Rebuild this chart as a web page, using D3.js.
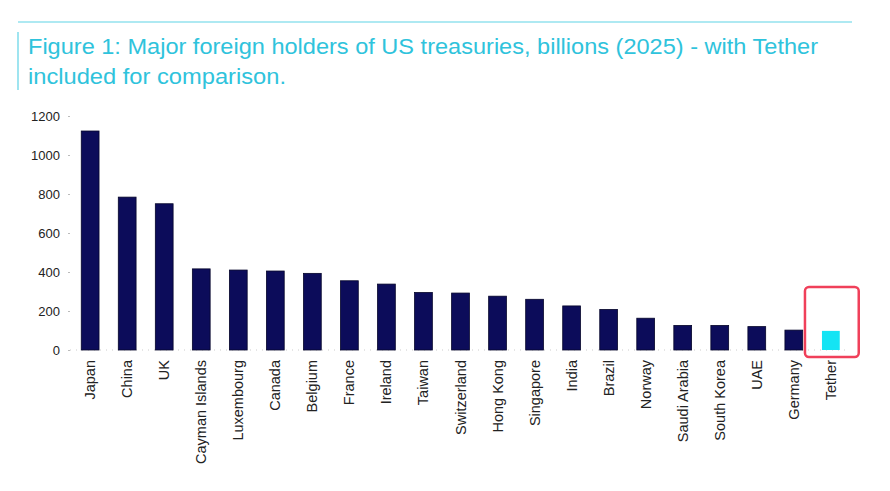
<!DOCTYPE html>
<html><head><meta charset="utf-8">
<script src="https://cdn.jsdelivr.net/npm/d3@7"></script>
<style>body{margin:0;background:#fff}svg{font-family:"Liberation Sans",Arial,sans-serif}</style>
</head><body><svg id="c" width="890" height="491"></svg>
<script>
const countries = ["Japan","China","UK","Cayman Islands","Luxembourg","Canada","Belgium","France","Ireland","Taiwan","Switzerland","Hong Kong","Singapore","India","Brazil","Norway","Saudi Arabia","South Korea","UAE","Germany","Tether"]
const holdings = [1123,784,750,416,410,405,393,355,338,295,292,276,260,226,208,163,126,126,120,102,98]
const yTicks = [0,200,400,600,800,1000,1200]

const svg = d3.select("#c")

const x = d3.scaleBand().domain(countries).range([72, 849]).paddingInner(0.52).paddingOuter(0.25)
const y = d3.scaleLinear().domain([0, 1200]).range([350, 116])

// header
svg.append("line").attr("x1", 18).attr("x2", 852).attr("y1", 22).attr("y2", 22)
    .attr("stroke", "#5fd3e6").attr("stroke-width", 1.2)
svg.append("line").attr("x1", 18).attr("x2", 18).attr("y1", 32).attr("y2", 90)
    .attr("stroke", "#5fd3e6").attr("stroke-width", 1.2)
const title = svg.append("text").attr("fill", "#2fc3dc").attr("font-size", 21.5)
    .attr("textLength", null)
title.append("tspan").attr("x", 28).attr("y", 54)
    .attr("textLength", 790).attr("lengthAdjust", "spacingAndGlyphs")
    .text("Figure 1: Major foreign holders of US treasuries, billions (2025) - with Tether")
title.append("tspan").attr("x", 28).attr("y", 84)
    .attr("textLength", 258).attr("lengthAdjust", "spacingAndGlyphs")
    .text("included for comparison.")

// y axis
const yAxis = svg.append("g").attr("transform", "translate(70,0)")
    .call(d3.axisLeft(y).tickValues(yTicks).tickFormat(d3.format("d")).tickSize(2).tickPadding(8))
yAxis.select(".domain").remove()
yAxis.selectAll(".tick line").attr("stroke", "#bbb")
yAxis.selectAll("text").attr("font-size", 13).attr("fill", "#222")

// baseline
svg.append("line").attr("x1", 70).attr("x2", 849).attr("y1", y(0)).attr("y2", y(0))
    .attr("stroke", "#ccc").attr("stroke-dasharray", "1,5")

svg.selectAll(".bar").data(countries).enter().append("rect")
    .attr("class", "bar")
    .attr("x", d => x(d))
    .attr("width", x.bandwidth())
    .attr("y", (d, i) => y(holdings[i]))
    .attr("height", (d, i) => y(0) - y(holdings[i]))
    .attr("fill", d => d === "Tether" ? "#14e4f4" : "#0c0c5a")
    .attr("stroke", d => d === "Tether" ? "none" : "#05052a")
    .attr("stroke-width", 0.8)

// x labels
svg.selectAll(".xl").data(countries).enter().append("text")
    .attr("transform", d => `translate(${x(d) + x.bandwidth() / 2 + 5},360) rotate(-90)`)
    .attr("text-anchor", "end").attr("font-size", 14.5).attr("fill", "#222")
    .text(d => d)

// highlight box around Tether
const tx = x("Tether")
svg.append("rect").attr("x", tx - 17).attr("y", 287).attr("width", x.bandwidth() + 36).attr("height", 70)
    .attr("rx", 4).attr("fill", "none").attr("stroke", "#f0405a").attr("stroke-width", 2.5)
</script></body></html>
